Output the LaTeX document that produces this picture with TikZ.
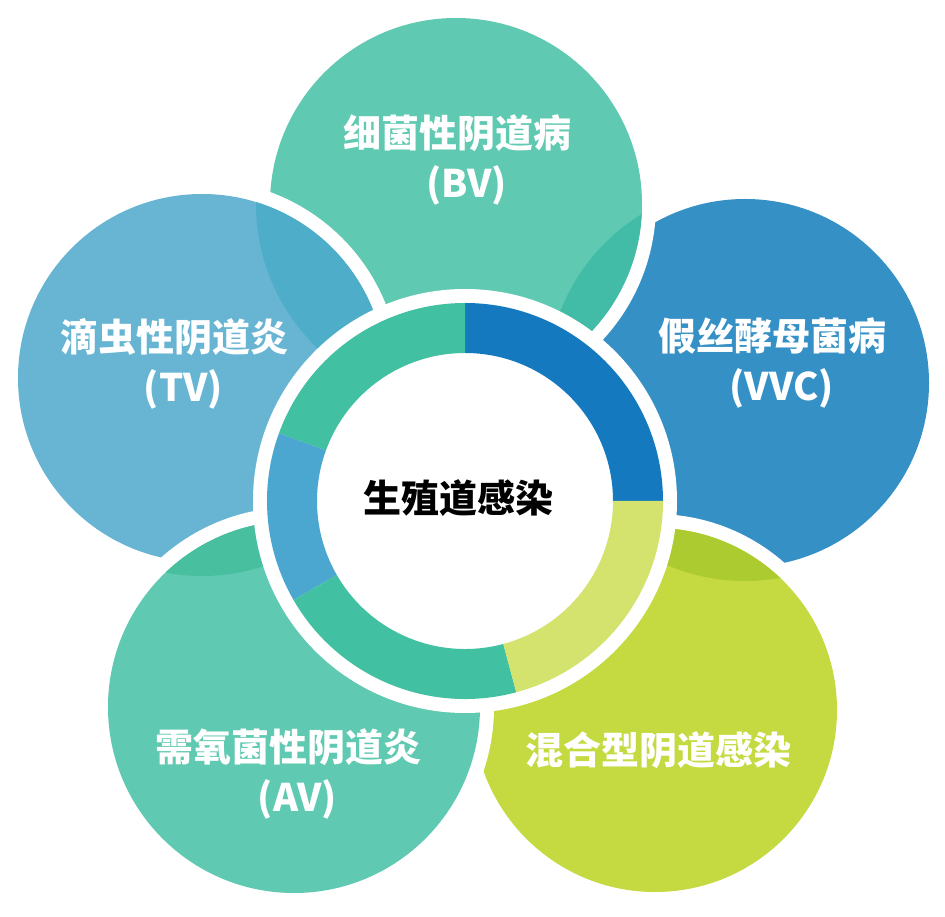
\documentclass[tikz,border=0pt]{standalone}
\usepackage{fontspec}
\setmainfont{Noto Sans CJK SC}
\usepackage{xcolor}
\usepackage{tikz}

\definecolor{bvcol}{RGB}{96,201,177}
\definecolor{tvcol}{RGB}{103,181,211}
\definecolor{vvccol}{RGB}{53,144,198}
\definecolor{avcol}{RGB}{95,201,177}
\definecolor{mixcol}{RGB}{196,218,64}
\definecolor{bvshade}{RGB}{66,188,166}
\definecolor{tvshade}{RGB}{78,174,201}
\definecolor{avshade}{RGB}{72,192,160}
\definecolor{mixshade}{RGB}{172,203,48}
\definecolor{ringblue}{RGB}{20,121,191}
\definecolor{ringlime}{RGB}{211,227,109}
\definecolor{ringteal}{RGB}{66,193,162}
\definecolor{ringsky}{RGB}{75,167,207}

\begin{document}
\begin{tikzpicture}[x=1pt, y=1pt,
    rim/.style={fill=white},
    overlap/.style={fill=#1},
    petaltext/.style={text=white, font=\bfseries\fontsize{38}{50}\selectfont, align=center},
    coretext/.style={text=black, font=\bfseries\fontsize{38}{46}\selectfont}
]
    \useasboundingbox (0,0) rectangle (945,916);

    \coordinate (bv) at (456,712);
    \coordinate (tv) at (202,538);
    \coordinate (vvc) at (745,533);
    \coordinate (av) at (294,209);
    \coordinate (mix) at (655,206);
    \coordinate (ring) at (465,415);

    % petals, back to front
    \fill [rim] (vvc) circle (198);
    \fill [vvccol] (vvc) circle (184);

    \fill [rim] (bv) circle (200);
    \fill [bvcol] (bv) circle (186);
    \begin{scope}
        \clip (bv) circle (186);
        \fill [overlap=bvshade] (vvc) circle (198);
    \end{scope}

    \fill [rim] (tv) circle (198);
    \fill [tvcol] (tv) circle (184);
    \begin{scope}
        \clip (tv) circle (184);
        \fill [overlap=tvshade] (bv) circle (200);
    \end{scope}

    \fill [rim] (mix) circle (196);
    \fill [mixcol] (mix) circle (182);
    \begin{scope}
        \clip (mix) circle (182);
        \fill [overlap=mixshade] (vvc) circle (198);
    \end{scope}

    \fill [rim] (av) circle (200);
    \fill [avcol] (av) circle (186);
    \begin{scope}
        \clip (av) circle (186);
        \fill [overlap=avshade] (tv) circle (198);
    \end{scope}

    % centre ring
    \fill [rim] (ring) circle (212);
    \fill [ringblue, shift={(ring)}] (0:198) arc[start angle=0, end angle=90, radius=198] -- (90:148) arc[start angle=90, end angle=0, radius=148] -- cycle;
    \fill [ringteal, shift={(ring)}] (90:198) arc[start angle=90, end angle=160, radius=198] -- (160:148) arc[start angle=160, end angle=90, radius=148] -- cycle;
    \fill [ringsky, shift={(ring)}] (160:198) arc[start angle=160, end angle=210, radius=198] -- (210:148) arc[start angle=210, end angle=160, radius=148] -- cycle;
    \fill [ringteal, shift={(ring)}] (210:198) arc[start angle=210, end angle=285, radius=198] -- (285:148) arc[start angle=285, end angle=210, radius=148] -- cycle;
    \fill [ringlime, shift={(ring)}] (285:198) arc[start angle=285, end angle=360, radius=198] -- (360:148) arc[start angle=360, end angle=285, radius=148] -- cycle;

    \node (bvtext) [petaltext] at (457,756) {细菌性阴道病\\\hspace*{.5em}(BV)};
    \node (tvtext) [petaltext] at (174,552) {滴虫性阴道炎\\\hspace*{.5em}(TV)};
    \node (vvctext) [petaltext] at (772,553) {假丝酵母菌病\\\hspace*{.5em}(VVC)};
    \node (avtext) [petaltext] at (288,142) {需氧菌性阴道炎\\\hspace*{.5em}(AV)};
    \node (mixtext) [petaltext] at (658,166) {混合型阴道感染};
    \node (coretext) [coretext] at (458,418) {生殖道感染};
\end{tikzpicture}
\end{document}
